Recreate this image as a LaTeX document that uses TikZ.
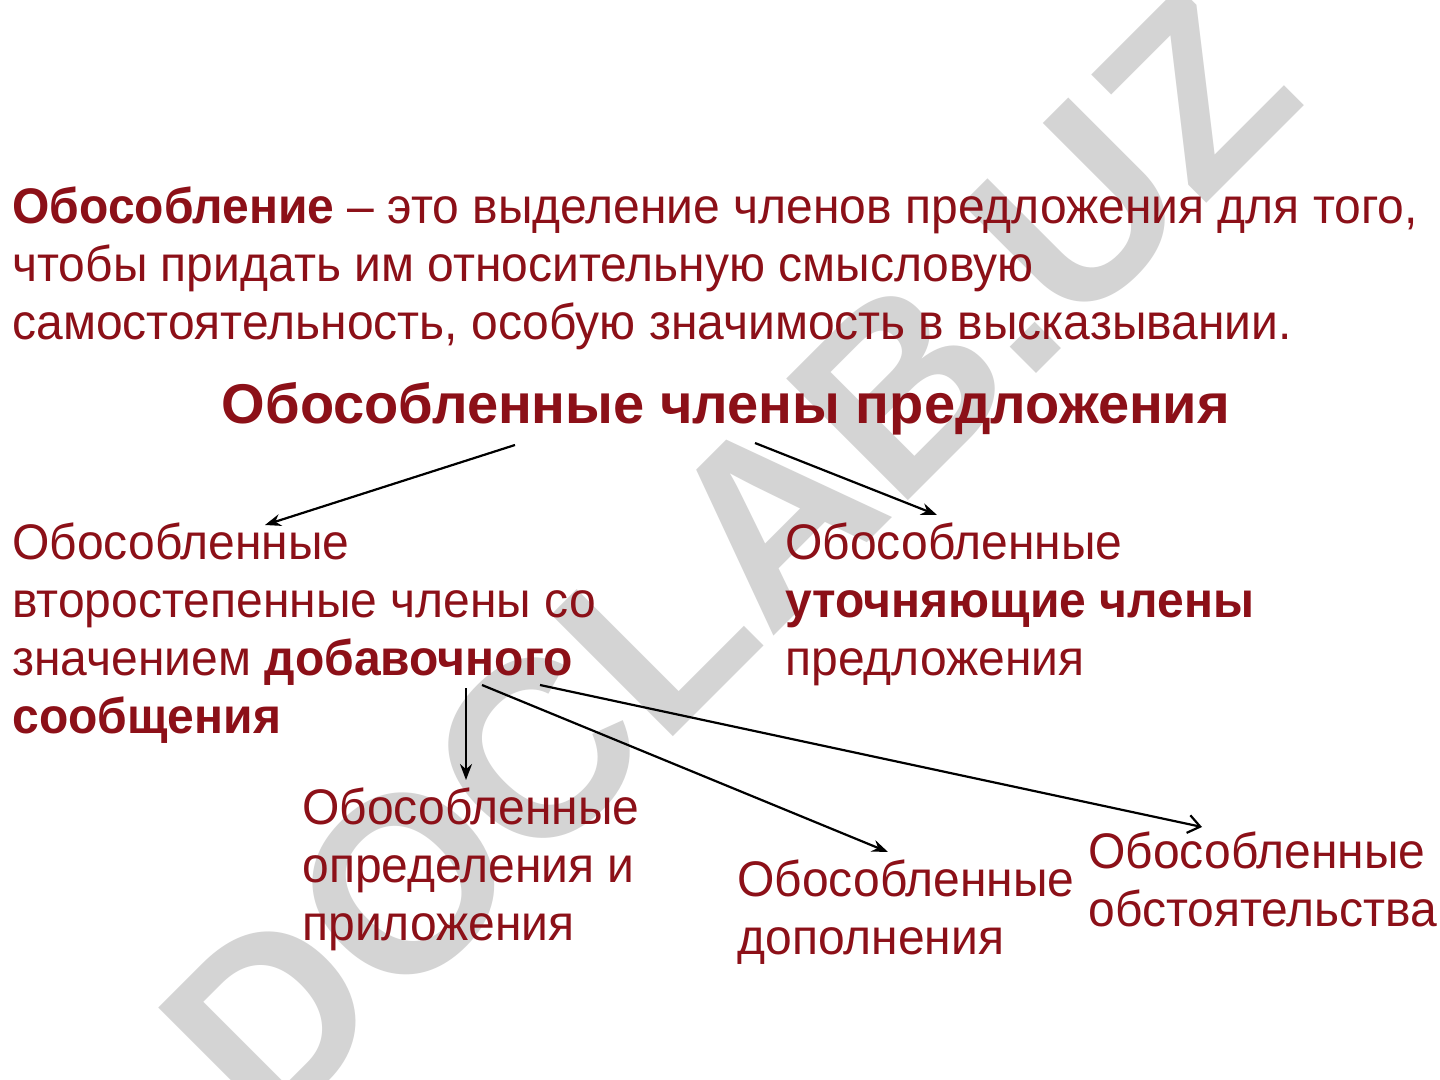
\documentclass[tikz,border=0pt]{standalone}
\usepackage{fontspec}
\setmainfont{Liberation Sans}[FakeStretch=0.96]
\newfontfamily\titlefont{Liberation Sans}
\usetikzlibrary{arrows.meta}
\definecolor{darkred}{RGB}{140,16,24}
\definecolor{wmgray}{RGB}{212,212,212}

\begin{document}
\begin{tikzpicture}[x=0.5pt,y=-0.5pt,
    txt/.style={anchor=north west, inner sep=0pt, align=left, text=darkred,
        font=\fontsize{25}{29}\selectfont},
    arr/.style={-{Stealth[length=8pt,width=6pt]}, line width=1.1pt},
    openarr/.style={-{Straight Barb[length=6pt,width=9pt]}, line width=1.1pt}]
    \useasboundingbox (0,0) rectangle (1440,1080);
    \fill[white] (0,0) rectangle (1440,1080);

    % watermark
    \node[rotate=45, text=wmgray, font=\titlefont\fontsize{125}{125}\bfseries\selectfont] (wm) at (728,560) {DOCLAB.UZ};

    % definition
    \node[txt] (def) at (12,186) {\textbf{Обособление} -- это выделение членов предложения для того,\\
        чтобы придать им относительную смысловую\\
        самостоятельность, особую значимость в высказывании.};

    \node[inner sep=0pt, anchor=north, text=darkred, font=\titlefont\fontsize{28}{32}\bfseries\selectfont] (title) at (726,382) {Обособленные члены предложения};

    \node[txt] (vtor) at (12,522) {Обособленные\\ второстепенные члены со\\ значением \textbf{добавочного}\\ \textbf{сообщения}};
    \node[txt] (utoch) at (785,522) {Обособленные\\ \textbf{уточняющие члены}\\ предложения};

    \node[txt] (opred) at (302,787) {Обособленные\\ определения и\\ приложения};
    \node[txt] (dopol) at (737,859) {Обособленные\\ дополнения};
    \node[txt] (obst) at (1088,831) {Обособленные\\ обстоятельства};

    % arrows
    \coordinate (t1) at (515,445);
    \coordinate (t2) at (755,443);
    \coordinate (v1) at (466,688);
    \coordinate (v2) at (482,685);
    \coordinate (v3) at (540,685);
    \coordinate (e1) at (265,525);
    \coordinate (e2) at (937,515);
    \coordinate (e3) at (466,780);
    \coordinate (e4) at (888,852);
    \coordinate (e5) at (1202,827);

    \draw[arr] (t1) -- (e1);
    \draw[arr] (t2) -- (e2);
    \draw[arr] (v1) -- (e3);
    \draw[arr] (v2) -- (e4);
    \draw[openarr] (v3) -- (e5);
\end{tikzpicture}
\end{document}
